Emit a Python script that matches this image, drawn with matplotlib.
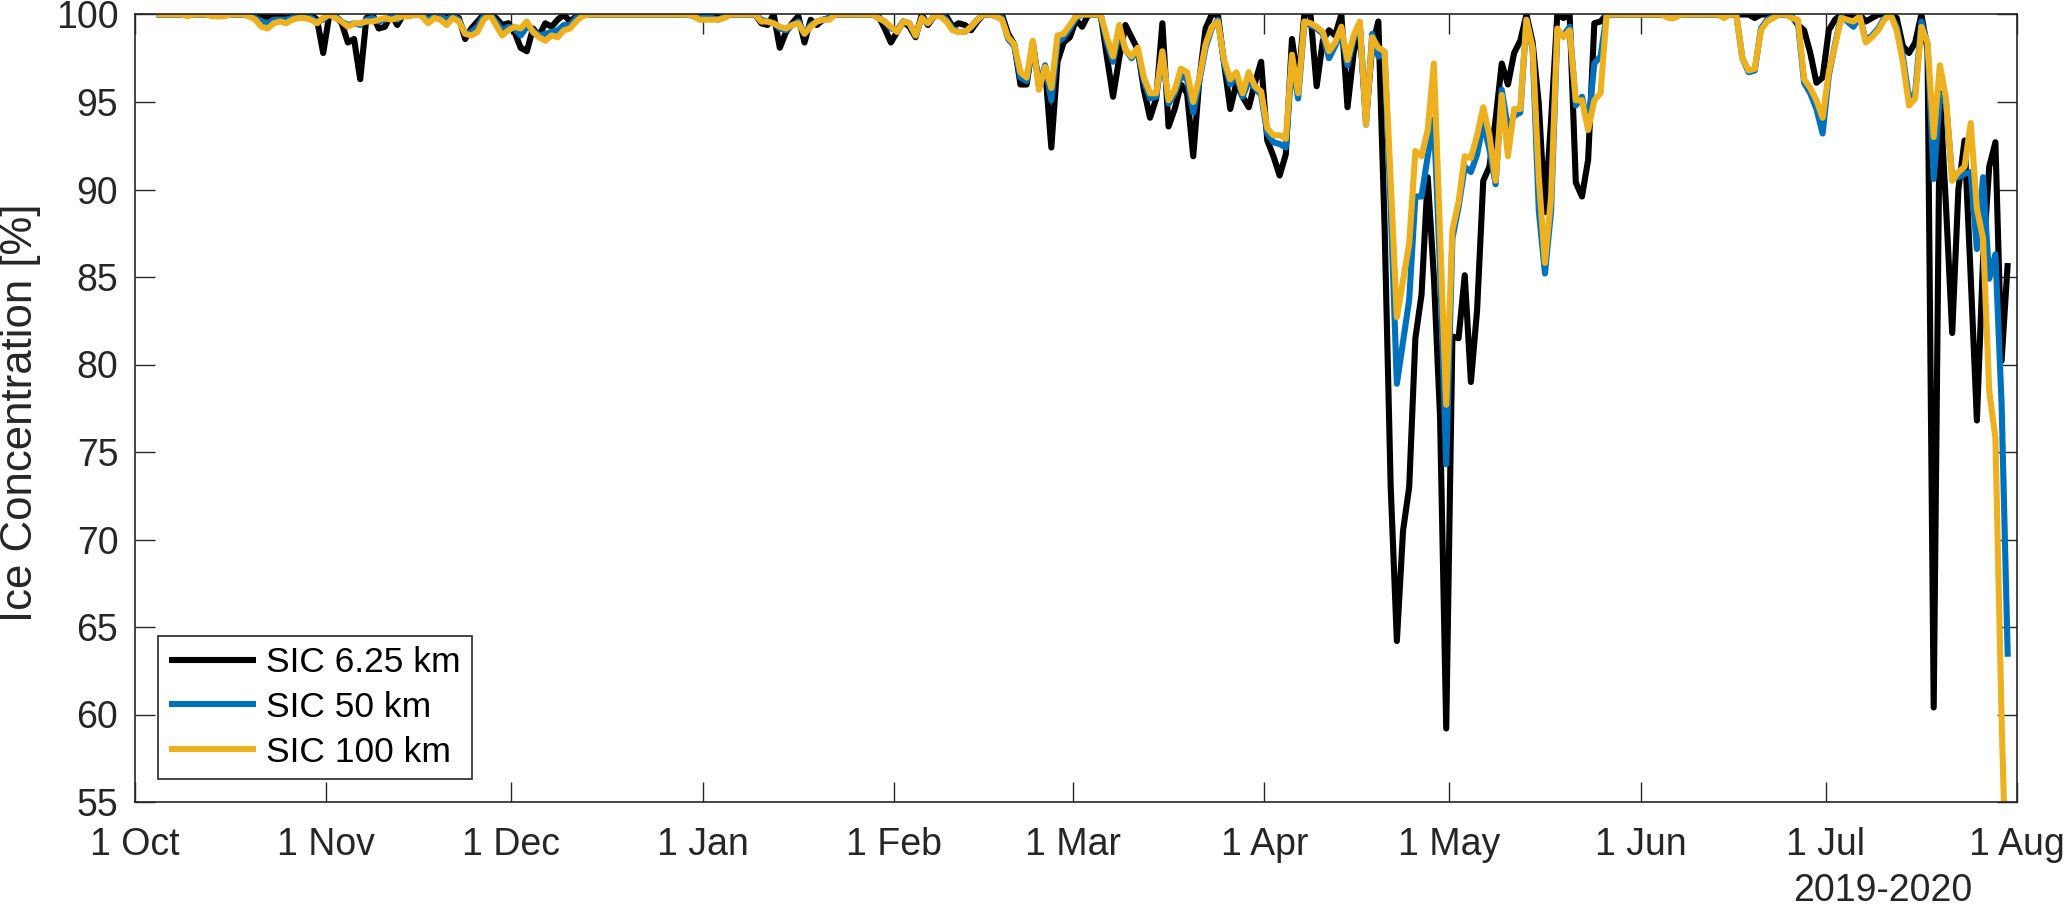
import matplotlib
matplotlib.use('Agg')
import matplotlib.pyplot as plt
import pandas as pd

# ---------------- data (daily, starting 4 Oct 2019 12:00) ----------------
start_time = '2019-10-04 12:00'

sic_6km = [
    100, 100, 100, 100, 100, 100, 100, 100, 100, 100,
    100, 100, 100, 100, 100, 100, 99.9, 100, 99.8, 100,
    99.9, 99.8, 99.9, 100, 100, 100, 99.7, 97.8, 100, 99.9,
    99.5, 98.4, 98.6, 96.3, 99.8, 100, 99.2, 99.3, 100, 99.4,
    100, 100, 100, 100, 99.8, 100, 100, 100, 99.9, 99.8,
    98.6, 99.2, 99.6, 100, 100, 99.8, 99.4, 99.5, 99.0, 98.1,
    97.9, 99.2, 98.8, 99.5, 99.3, 99.7, 100, 99.6, 99.9, 100,
    100, 100, 100, 100, 100, 100, 100, 100, 100, 100,
    100, 100, 100, 100, 100, 100, 100, 100, 100, 100,
    100, 99.9, 100, 100, 100, 100, 100, 100, 99.5, 99.4,
    100, 98.1, 99.0, 99.5, 99.9, 98.4, 99.7, 99.4, 99.7, 99.8,
    100, 100, 100, 100, 100, 100, 100, 99.9, 99.2, 98.4,
    99.0, 99.6, 99.3, 98.7, 100, 99.4, 99.9, 100, 99.9, 99.3,
    99.5, 99.4, 99.1, 99.6, 100, 100, 100, 100, 98.9, 98.3,
    96.0, 96.0, 98.4, 96.0, 96.9, 92.4, 97.3, 98.4, 98.7, 99.7,
    99.3, 100, 100, 100, 97.6, 95.3, 97.5, 99.4, 98.7, 98.0,
    95.7, 94.1, 95.2, 99.5, 93.6, 94.6, 96.0, 95.5, 91.9, 96.3,
    99.2, 100, 100, 97.2, 94.6, 96.1, 95.3, 94.7, 96.1, 97.3,
    92.8, 91.9, 90.8, 92.0, 98.6, 96.0, 100, 100, 95.9, 98.5,
    99.1, 98.8, 100, 94.7, 97.8, 99.3, 94.0, 98.2, 99.6, 88.0,
    73.0, 64.2, 70.5, 73.0, 81.5, 84.0, 90.7, 85.0, 77.0, 59.2,
    81.6, 81.5, 85.1, 79.0, 83.1, 90.5, 91.3, 94.0, 97.2, 96.0,
    97.8, 98.5, 100, 98.4, 94.9, 88.7, 94.0, 100, 99.8, 100,
    90.4, 89.6, 91.7, 99.5, 99.6, 100, 100, 100, 100, 100,
    100, 100, 100, 100, 100, 100, 100, 100, 100, 100,
    100, 100, 100, 100, 100, 100, 100, 100, 100, 99.8,
    100, 100, 100, 100, 100, 99.9, 99.4, 99.1, 97.8, 96.1,
    96.4, 99.1, 99.7, 100, 99.9, 100, 100, 99.6, 99.8, 100,
    100, 100, 99.8, 98.2, 97.8, 98.4, 100, 98.0, 60.4, 95.5,
    89.0, 81.8, 90.0, 92.8, 85.0, 76.8, 86.0, 91.3, 92.7, 80.2,
    85.8,
]

sic_50km = [
    100, 100, 100, 100, 100, 100, 100, 100, 100, 100,
    99.9, 100, 100, 100, 100, 99.9, 99.8, 99.6, 99.5, 99.7,
    99.7, 99.7, 99.8, 99.9, 99.9, 99.8, 99.6, 99.7, 100, 99.9,
    99.6, 99.4, 99.5, 99.4, 99.7, 99.8, 99.6, 99.7, 99.9, 99.7,
    100, 100, 100, 100, 99.7, 99.9, 99.9, 99.7, 99.9, 99.7,
    98.9, 99.0, 99.3, 99.9, 100, 99.6, 99.1, 99.3, 99.2, 98.8,
    99.3, 99.1, 98.8, 98.9, 99.0, 99.1, 99.4, 99.4, 99.8, 100,
    100, 100, 100, 100, 100, 100, 100, 100, 100, 100,
    100, 100, 100, 100, 100, 100, 100, 99.9, 99.8, 99.8,
    99.8, 99.7, 99.9, 100, 100, 100, 100, 100, 99.7, 99.6,
    99.5, 99.2, 99.1, 99.4, 99.6, 98.9, 99.4, 99.6, 99.7, 99.8,
    100, 100, 100, 100, 100, 100, 100, 99.8, 99.6, 99.2,
    99.1, 99.6, 99.5, 98.8, 99.8, 99.5, 99.9, 100, 99.7, 99.2,
    99.0, 99.0, 99.3, 99.7, 100, 100, 99.9, 99.8, 98.6, 98.2,
    96.4, 96.2, 98.2, 96.0, 97.1, 95.1, 98.4, 98.7, 99.2, 99.8,
    100, 100, 100, 100, 98.4, 97.3, 99.0, 98.0, 97.5, 97.9,
    96.2, 95.2, 95.3, 97.8, 94.9, 95.5, 96.5, 96.3, 94.4, 96.2,
    98.1, 99.2, 99.7, 97.2, 96.0, 96.5, 95.3, 96.2, 95.8, 95.4,
    93.2, 92.7, 92.6, 92.4, 97.3, 95.2, 99.5, 99.4, 99.2, 98.9,
    97.5, 98.2, 99.0, 97.1, 98.6, 99.4, 93.7, 98.9, 97.6, 97.8,
    89.0, 78.9, 81.3, 83.7, 89.6, 89.6, 91.9, 94.0, 85.5, 74.3,
    87.2, 89.0, 91.3, 91.0, 92.0, 93.8, 92.3, 90.3, 95.7, 93.5,
    94.2, 94.4, 99.7, 98.0, 88.8, 85.2, 88.8, 99.0, 98.8, 99.3,
    94.8, 95.3, 93.6, 97.2, 97.6, 100, 100, 100, 100, 100,
    100, 100, 100, 100, 100, 99.9, 99.9, 100, 100, 100,
    100, 100, 100, 100, 99.9, 100, 100, 97.5, 96.7, 96.8,
    99.2, 99.7, 99.9, 100, 100, 99.9, 99.5, 96.1, 95.5, 94.6,
    93.2, 96.5, 98.3, 99.9, 99.6, 99.3, 99.9, 98.5, 98.8, 99.2,
    99.8, 100, 99.3, 97.6, 95.2, 95.5, 99.6, 98.3, 90.6, 95.4,
    94.9, 90.7, 90.7, 90.9, 91.0, 86.6, 90.7, 84.9, 86.3, 77.8,
    63.3,
]

sic_100km = [
    100, 100, 100, 100, 100, 99.9, 100, 100, 100, 99.9,
    99.9, 99.9, 100, 100, 100, 99.9, 99.7, 99.3, 99.2, 99.5,
    99.6, 99.5, 99.7, 99.8, 99.8, 99.7, 99.5, 99.8, 100, 99.8,
    99.6, 99.3, 99.5, 99.5, 99.6, 99.6, 99.7, 99.8, 99.7, 99.8,
    99.9, 99.9, 100, 99.9, 99.5, 99.8, 99.7, 99.4, 99.8, 99.6,
    98.9, 98.8, 99.0, 99.7, 100, 99.4, 98.8, 99.1, 99.3, 99.2,
    99.6, 99.0, 98.7, 98.5, 98.8, 98.7, 99.1, 99.2, 99.6, 99.9,
    100, 100, 100, 100, 100, 100, 100, 100, 100, 100,
    100, 100, 100, 100, 100, 100, 100, 99.9, 99.7, 99.7,
    99.7, 99.7, 99.8, 100, 100, 100, 100, 100, 99.6, 99.6,
    99.5, 99.3, 99.2, 99.4, 99.5, 98.9, 99.3, 99.6, 99.7, 99.7,
    100, 100, 100, 100, 100, 100, 100, 99.8, 99.6, 99.3,
    99.0, 99.6, 99.5, 98.8, 99.8, 99.5, 99.9, 99.9, 99.6, 99.1,
    99.0, 99.0, 99.3, 99.7, 100, 100, 99.9, 99.7, 98.7, 98.3,
    96.7, 96.4, 98.5, 95.7, 97.0, 95.8, 98.8, 98.9, 99.4, 99.9,
    100, 100, 100, 100, 98.7, 97.6, 99.4, 98.0, 97.6, 98.1,
    96.4, 95.5, 95.5, 97.9, 95.1, 95.7, 96.9, 96.7, 95.0, 96.4,
    98.3, 99.3, 99.6, 97.4, 96.3, 96.7, 95.5, 96.7, 95.9, 95.6,
    93.5, 93.1, 93.1, 92.9, 97.7, 95.5, 99.6, 99.5, 99.3, 99.0,
    97.9, 98.4, 99.3, 97.4, 98.8, 99.6, 93.7, 98.7, 98.1, 97.9,
    90.5, 82.7, 84.8, 86.9, 92.2, 91.9, 93.4, 97.2, 87.5, 77.7,
    87.7, 89.3, 91.9, 91.8, 93.1, 94.7, 93.1, 90.5, 95.4, 91.9,
    94.6, 94.6, 99.7, 98.1, 90.7, 85.8, 89.6, 99.2, 98.7, 99.1,
    95.1, 95.1, 93.4, 95.1, 95.5, 100, 100, 100, 100, 100,
    100, 100, 100, 100, 100, 99.8, 99.8, 100, 100, 100,
    100, 100, 100, 100, 99.8, 100, 100, 97.5, 96.8, 96.9,
    99.1, 99.6, 99.8, 100, 100, 99.8, 99.7, 96.3, 95.8, 95.1,
    94.1, 96.7, 98.2, 99.8, 99.7, 99.6, 99.9, 98.4, 98.7, 99.1,
    99.7, 100, 99.1, 97.3, 94.8, 95.2, 99.3, 98.4, 93.0, 97.1,
    95.2, 90.5, 91.0, 91.3, 93.8, 88.9, 87.2, 78.5, 75.8, 59.8,
    47.0,
]

series_labels = ['SIC 6.25 km', 'SIC 50 km', 'SIC 100 km']
series_colors = ['#000000', '#0072BD', '#EDB120']

tick_dates = ['2019-10-01', '2019-11-01', '2019-12-01', '2020-01-01', '2020-02-01',
              '2020-03-01', '2020-04-01', '2020-05-01', '2020-06-01', '2020-07-01',
              '2020-08-01']
tick_labels = ['1 Oct', '1 Nov', '1 Dec', '1 Jan', '1 Feb', '1 Mar', '1 Apr',
               '1 May', '1 Jun', '1 Jul', '1 Aug']
y_ticks = [55, 60, 65, 70, 75, 80, 85, 90, 95, 100]

# ---------------- figure ----------------
plt.rcParams['font.family'] = ['Liberation Sans', 'DejaVu Sans']
txt = '#262626'

W, H = 2067, 906
fig = plt.figure(figsize=(W / 100, H / 100), dpi=100)
ax = fig.add_axes([135 / W, 104 / H, 1882 / W, 787.5 / H])

dates = pd.date_range(start_time, periods=len(sic_6km), freq='D')
for vals, lab, col in zip([sic_6km, sic_50km, sic_100km], series_labels, series_colors):
    ax.plot(dates, vals, color=col, lw=4.4, label=lab,
            solid_joinstyle='round', solid_capstyle='butt')

ax.set_xlim(pd.Timestamp(tick_dates[0]), pd.Timestamp(tick_dates[-1]))
ax.set_ylim(55, 100)
ax.set_xticks([pd.Timestamp(d) for d in tick_dates])
ax.set_xticklabels(tick_labels)
ax.set_yticks(y_ticks)
ax.set_yticklabels([str(v) for v in y_ticks])

for s in ax.spines.values():
    s.set_color(txt)
    s.set_linewidth(1.2)

ax.tick_params(axis='both', which='major', direction='in', length=14.4, width=1.0,
               color=txt, labelcolor=txt, labelsize=27, top=True, right=True)
ax.tick_params(axis='x', pad=18)
ax.tick_params(axis='y', pad=12)

fig.text(21 / W, 1 - 413 / H, 'Ice Concentration [%]', rotation=90,
         ha='center', va='center', fontsize=31.5, color=txt)
fig.text(1883 / W, 1 - 891 / H, '2019-2020', ha='center', va='center',
         fontsize=27, color=txt)

leg = ax.legend(loc='lower left', bbox_to_anchor=(0.0122, 0.029), borderaxespad=0,
                fontsize=25.5, handlelength=2.46, handletextpad=0.3,
                labelspacing=0.33, borderpad=0.3, fancybox=False, framealpha=1)
leg.get_frame().set_edgecolor(txt)
leg.get_frame().set_linewidth(1.2)
for t in leg.get_texts():
    t.set_color('#000000')

fig.savefig('out.png', dpi=100)
